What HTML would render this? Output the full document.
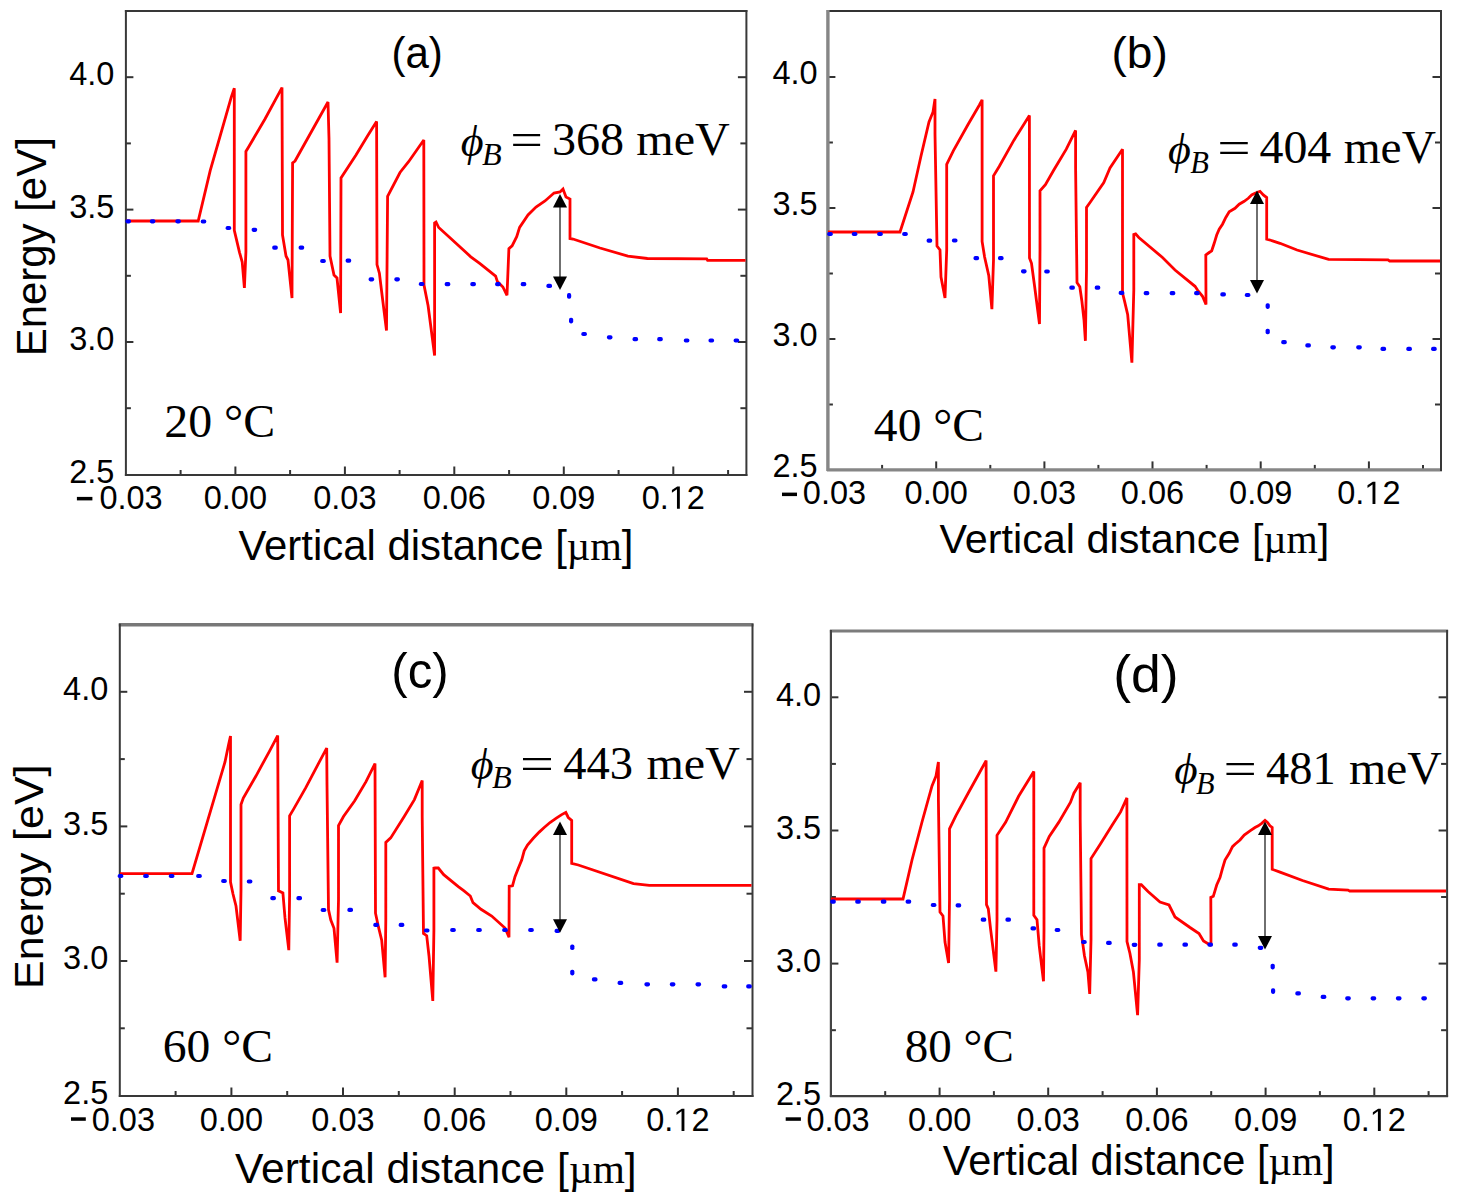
<!DOCTYPE html>
<html><head><meta charset="utf-8"><style>
html,body{margin:0;padding:0;background:#fff;overflow:hidden;width:1459px;height:1200px;}
svg{display:block;}
.s{font-family:"Liberation Sans",sans-serif;fill:#000;}
.r{font-family:"Liberation Serif",serif;fill:#000;}
</style></head><body>
<svg width="1459" height="1200" viewBox="0 0 1459 1200">
<rect width="1459" height="1200" fill="#fff"/>
<line x1="180.6" y1="475.0" x2="180.6" y2="470.0" stroke="#333" stroke-width="2"/>
<line x1="235.4" y1="475.0" x2="235.4" y2="466.5" stroke="#333" stroke-width="2"/>
<line x1="290.1" y1="475.0" x2="290.1" y2="470.0" stroke="#333" stroke-width="2"/>
<line x1="344.9" y1="475.0" x2="344.9" y2="466.5" stroke="#333" stroke-width="2"/>
<line x1="399.6" y1="475.0" x2="399.6" y2="470.0" stroke="#333" stroke-width="2"/>
<line x1="454.3" y1="475.0" x2="454.3" y2="466.5" stroke="#333" stroke-width="2"/>
<line x1="509.1" y1="475.0" x2="509.1" y2="470.0" stroke="#333" stroke-width="2"/>
<line x1="563.8" y1="475.0" x2="563.8" y2="466.5" stroke="#333" stroke-width="2"/>
<line x1="618.6" y1="475.0" x2="618.6" y2="470.0" stroke="#333" stroke-width="2"/>
<line x1="673.3" y1="475.0" x2="673.3" y2="466.5" stroke="#333" stroke-width="2"/>
<line x1="728.1" y1="475.0" x2="728.1" y2="470.0" stroke="#333" stroke-width="2"/>
<line x1="125.9" y1="408.2" x2="130.9" y2="408.2" stroke="#333" stroke-width="2"/>
<line x1="746.4" y1="408.2" x2="740.4" y2="408.2" stroke="#333" stroke-width="2"/>
<line x1="125.9" y1="342.0" x2="133.4" y2="342.0" stroke="#333" stroke-width="2"/>
<line x1="746.4" y1="342.0" x2="737.9" y2="342.0" stroke="#333" stroke-width="2"/>
<line x1="125.9" y1="275.8" x2="130.9" y2="275.8" stroke="#333" stroke-width="2"/>
<line x1="746.4" y1="275.8" x2="740.4" y2="275.8" stroke="#333" stroke-width="2"/>
<line x1="125.9" y1="209.6" x2="133.4" y2="209.6" stroke="#333" stroke-width="2"/>
<line x1="746.4" y1="209.6" x2="737.9" y2="209.6" stroke="#333" stroke-width="2"/>
<line x1="125.9" y1="143.4" x2="130.9" y2="143.4" stroke="#333" stroke-width="2"/>
<line x1="746.4" y1="143.4" x2="740.4" y2="143.4" stroke="#333" stroke-width="2"/>
<line x1="125.9" y1="77.2" x2="133.4" y2="77.2" stroke="#333" stroke-width="2"/>
<line x1="746.4" y1="77.2" x2="737.9" y2="77.2" stroke="#333" stroke-width="2"/>
<line x1="124.9" y1="10.9" x2="747.4" y2="10.9" stroke="#383838" stroke-width="2.0"/>
<line x1="124.9" y1="475.0" x2="747.4" y2="475.0" stroke="#383838" stroke-width="2.0"/>
<line x1="125.9" y1="9.9" x2="125.9" y2="476.0" stroke="#383838" stroke-width="2.0"/>
<line x1="746.4" y1="9.9" x2="746.4" y2="476.0" stroke="#383838" stroke-width="2.0"/>
<rect x="76.9" y="496.9" width="15.5" height="3.5" fill="#000"/>
<text x="99.43" y="508.8" font-size="32.5" class="s">0.03</text>
<text x="235.4" y="508.8" font-size="32.5" text-anchor="middle" class="s">0.00</text>
<text x="344.9" y="508.8" font-size="32.5" text-anchor="middle" class="s">0.03</text>
<text x="454.3" y="508.8" font-size="32.5" text-anchor="middle" class="s">0.06</text>
<text x="563.8" y="508.8" font-size="32.5" text-anchor="middle" class="s">0.09</text>
<text x="641.68" y="508.8" font-size="32.5" class="s">0.</text>
<polygon points="676.96,508.80 679.83,508.80 679.83,486.44 677.20,486.44 671.92,490.07 671.92,492.77 676.96,489.17" fill="#000"/>
<text x="686.86" y="508.8" font-size="32.5" class="s">2</text>
<text x="114.4" y="482.6" font-size="32.5" text-anchor="end" class="s">2.5</text>
<text x="114.4" y="350.2" font-size="32.5" text-anchor="end" class="s">3.0</text>
<text x="114.4" y="217.8" font-size="32.5" text-anchor="end" class="s">3.5</text>
<text x="114.4" y="85.4" font-size="32.5" text-anchor="end" class="s">4.0</text>
<line x1="882.1" y1="469.9" x2="882.1" y2="464.9" stroke="#333" stroke-width="2"/>
<line x1="936.2" y1="469.9" x2="936.2" y2="461.4" stroke="#333" stroke-width="2"/>
<line x1="990.3" y1="469.9" x2="990.3" y2="464.9" stroke="#333" stroke-width="2"/>
<line x1="1044.4" y1="469.9" x2="1044.4" y2="461.4" stroke="#333" stroke-width="2"/>
<line x1="1098.4" y1="469.9" x2="1098.4" y2="464.9" stroke="#333" stroke-width="2"/>
<line x1="1152.5" y1="469.9" x2="1152.5" y2="461.4" stroke="#333" stroke-width="2"/>
<line x1="1206.6" y1="469.9" x2="1206.6" y2="464.9" stroke="#333" stroke-width="2"/>
<line x1="1260.7" y1="469.9" x2="1260.7" y2="461.4" stroke="#333" stroke-width="2"/>
<line x1="1314.8" y1="469.9" x2="1314.8" y2="464.9" stroke="#333" stroke-width="2"/>
<line x1="1368.9" y1="469.9" x2="1368.9" y2="461.4" stroke="#333" stroke-width="2"/>
<line x1="1423.0" y1="469.9" x2="1423.0" y2="464.9" stroke="#333" stroke-width="2"/>
<line x1="827.9" y1="404.5" x2="832.9" y2="404.5" stroke="#333" stroke-width="2"/>
<line x1="1441.0" y1="404.5" x2="1435.0" y2="404.5" stroke="#333" stroke-width="2"/>
<line x1="827.9" y1="339.0" x2="835.4" y2="339.0" stroke="#333" stroke-width="2"/>
<line x1="1441.0" y1="339.0" x2="1432.5" y2="339.0" stroke="#333" stroke-width="2"/>
<line x1="827.9" y1="273.5" x2="832.9" y2="273.5" stroke="#333" stroke-width="2"/>
<line x1="1441.0" y1="273.5" x2="1435.0" y2="273.5" stroke="#333" stroke-width="2"/>
<line x1="827.9" y1="208.0" x2="835.4" y2="208.0" stroke="#333" stroke-width="2"/>
<line x1="1441.0" y1="208.0" x2="1432.5" y2="208.0" stroke="#333" stroke-width="2"/>
<line x1="827.9" y1="142.5" x2="832.9" y2="142.5" stroke="#333" stroke-width="2"/>
<line x1="1441.0" y1="142.5" x2="1435.0" y2="142.5" stroke="#333" stroke-width="2"/>
<line x1="827.9" y1="77.0" x2="835.4" y2="77.0" stroke="#333" stroke-width="2"/>
<line x1="1441.0" y1="77.0" x2="1432.5" y2="77.0" stroke="#333" stroke-width="2"/>
<line x1="826.9" y1="10.9" x2="1442.0" y2="10.9" stroke="#333333" stroke-width="2.0"/>
<line x1="826.9" y1="469.9" x2="1442.0" y2="469.9" stroke="#868686" stroke-width="3.4"/>
<line x1="827.9" y1="9.9" x2="827.9" y2="470.9" stroke="#868686" stroke-width="3.4"/>
<line x1="1441.0" y1="9.9" x2="1441.0" y2="470.9" stroke="#383838" stroke-width="2.0"/>
<rect x="782.0" y="492.6" width="15.0" height="3.5" fill="#000"/>
<text x="802.83" y="504.1" font-size="32.5" class="s">0.03</text>
<text x="936.2" y="504.1" font-size="32.5" text-anchor="middle" class="s">0.00</text>
<text x="1044.4" y="504.1" font-size="32.5" text-anchor="middle" class="s">0.03</text>
<text x="1152.5" y="504.1" font-size="32.5" text-anchor="middle" class="s">0.06</text>
<text x="1260.7" y="504.1" font-size="32.5" text-anchor="middle" class="s">0.09</text>
<text x="1337.26" y="504.1" font-size="32.5" class="s">0.</text>
<polygon points="1372.53,504.10 1375.40,504.10 1375.40,481.74 1372.77,481.74 1367.49,485.37 1367.49,488.07 1372.53,484.47" fill="#000"/>
<text x="1382.43" y="504.1" font-size="32.5" class="s">2</text>
<text x="817.6" y="477.3" font-size="32.5" text-anchor="end" class="s">2.5</text>
<text x="817.6" y="346.3" font-size="32.5" text-anchor="end" class="s">3.0</text>
<text x="817.6" y="215.3" font-size="32.5" text-anchor="end" class="s">3.5</text>
<text x="817.6" y="84.3" font-size="32.5" text-anchor="end" class="s">4.0</text>
<line x1="175.6" y1="1096.0" x2="175.6" y2="1091.0" stroke="#333" stroke-width="2"/>
<line x1="231.4" y1="1096.0" x2="231.4" y2="1087.5" stroke="#333" stroke-width="2"/>
<line x1="287.2" y1="1096.0" x2="287.2" y2="1091.0" stroke="#333" stroke-width="2"/>
<line x1="343.0" y1="1096.0" x2="343.0" y2="1087.5" stroke="#333" stroke-width="2"/>
<line x1="398.8" y1="1096.0" x2="398.8" y2="1091.0" stroke="#333" stroke-width="2"/>
<line x1="454.7" y1="1096.0" x2="454.7" y2="1087.5" stroke="#333" stroke-width="2"/>
<line x1="510.5" y1="1096.0" x2="510.5" y2="1091.0" stroke="#333" stroke-width="2"/>
<line x1="566.3" y1="1096.0" x2="566.3" y2="1087.5" stroke="#333" stroke-width="2"/>
<line x1="622.1" y1="1096.0" x2="622.1" y2="1091.0" stroke="#333" stroke-width="2"/>
<line x1="677.9" y1="1096.0" x2="677.9" y2="1087.5" stroke="#333" stroke-width="2"/>
<line x1="733.7" y1="1096.0" x2="733.7" y2="1091.0" stroke="#333" stroke-width="2"/>
<line x1="119.8" y1="1028.3" x2="124.8" y2="1028.3" stroke="#333" stroke-width="2"/>
<line x1="752.5" y1="1028.3" x2="746.5" y2="1028.3" stroke="#333" stroke-width="2"/>
<line x1="119.8" y1="961.0" x2="127.3" y2="961.0" stroke="#333" stroke-width="2"/>
<line x1="752.5" y1="961.0" x2="744.0" y2="961.0" stroke="#333" stroke-width="2"/>
<line x1="119.8" y1="893.7" x2="124.8" y2="893.7" stroke="#333" stroke-width="2"/>
<line x1="752.5" y1="893.7" x2="746.5" y2="893.7" stroke="#333" stroke-width="2"/>
<line x1="119.8" y1="826.4" x2="127.3" y2="826.4" stroke="#333" stroke-width="2"/>
<line x1="752.5" y1="826.4" x2="744.0" y2="826.4" stroke="#333" stroke-width="2"/>
<line x1="119.8" y1="759.1" x2="124.8" y2="759.1" stroke="#333" stroke-width="2"/>
<line x1="752.5" y1="759.1" x2="746.5" y2="759.1" stroke="#333" stroke-width="2"/>
<line x1="119.8" y1="691.8" x2="127.3" y2="691.8" stroke="#333" stroke-width="2"/>
<line x1="752.5" y1="691.8" x2="744.0" y2="691.8" stroke="#333" stroke-width="2"/>
<line x1="118.8" y1="624.8" x2="753.5" y2="624.8" stroke="#787878" stroke-width="3.4"/>
<line x1="118.8" y1="1096.0" x2="753.5" y2="1096.0" stroke="#383838" stroke-width="2.0"/>
<line x1="119.8" y1="623.8" x2="119.8" y2="1097.0" stroke="#383838" stroke-width="2.0"/>
<line x1="752.5" y1="623.8" x2="752.5" y2="1097.0" stroke="#3a3a3a" stroke-width="2.0"/>
<rect x="71.0" y="1117.3" width="14.8" height="3.5" fill="#000"/>
<text x="91.73" y="1131.0" font-size="32.5" class="s">0.03</text>
<text x="231.4" y="1131.0" font-size="32.5" text-anchor="middle" class="s">0.00</text>
<text x="343.0" y="1131.0" font-size="32.5" text-anchor="middle" class="s">0.03</text>
<text x="454.7" y="1131.0" font-size="32.5" text-anchor="middle" class="s">0.06</text>
<text x="566.3" y="1131.0" font-size="32.5" text-anchor="middle" class="s">0.09</text>
<text x="646.26" y="1131.0" font-size="32.5" class="s">0.</text>
<polygon points="681.54,1131.00 684.41,1131.00 684.41,1108.64 681.78,1108.64 676.49,1112.27 676.49,1114.97 681.54,1111.37" fill="#000"/>
<text x="691.44" y="1131.0" font-size="32.5" class="s">2</text>
<text x="108.3" y="1103.8" font-size="32.5" text-anchor="end" class="s">2.5</text>
<text x="108.3" y="969.2" font-size="32.5" text-anchor="end" class="s">3.0</text>
<text x="108.3" y="834.6" font-size="32.5" text-anchor="end" class="s">3.5</text>
<text x="108.3" y="700.0" font-size="32.5" text-anchor="end" class="s">4.0</text>
<line x1="885.2" y1="1096.1" x2="885.2" y2="1091.1" stroke="#333" stroke-width="2"/>
<line x1="939.6" y1="1096.1" x2="939.6" y2="1087.6" stroke="#333" stroke-width="2"/>
<line x1="993.9" y1="1096.1" x2="993.9" y2="1091.1" stroke="#333" stroke-width="2"/>
<line x1="1048.2" y1="1096.1" x2="1048.2" y2="1087.6" stroke="#333" stroke-width="2"/>
<line x1="1102.6" y1="1096.1" x2="1102.6" y2="1091.1" stroke="#333" stroke-width="2"/>
<line x1="1156.9" y1="1096.1" x2="1156.9" y2="1087.6" stroke="#333" stroke-width="2"/>
<line x1="1211.2" y1="1096.1" x2="1211.2" y2="1091.1" stroke="#333" stroke-width="2"/>
<line x1="1265.6" y1="1096.1" x2="1265.6" y2="1087.6" stroke="#333" stroke-width="2"/>
<line x1="1319.9" y1="1096.1" x2="1319.9" y2="1091.1" stroke="#333" stroke-width="2"/>
<line x1="1374.3" y1="1096.1" x2="1374.3" y2="1087.6" stroke="#333" stroke-width="2"/>
<line x1="1428.6" y1="1096.1" x2="1428.6" y2="1091.1" stroke="#333" stroke-width="2"/>
<line x1="830.9" y1="1030.2" x2="835.9" y2="1030.2" stroke="#333" stroke-width="2"/>
<line x1="1447.1" y1="1030.2" x2="1441.1" y2="1030.2" stroke="#333" stroke-width="2"/>
<line x1="830.9" y1="963.6" x2="838.4" y2="963.6" stroke="#333" stroke-width="2"/>
<line x1="1447.1" y1="963.6" x2="1438.6" y2="963.6" stroke="#333" stroke-width="2"/>
<line x1="830.9" y1="897.0" x2="835.9" y2="897.0" stroke="#333" stroke-width="2"/>
<line x1="1447.1" y1="897.0" x2="1441.1" y2="897.0" stroke="#333" stroke-width="2"/>
<line x1="830.9" y1="830.5" x2="838.4" y2="830.5" stroke="#333" stroke-width="2"/>
<line x1="1447.1" y1="830.5" x2="1438.6" y2="830.5" stroke="#333" stroke-width="2"/>
<line x1="830.9" y1="763.9" x2="835.9" y2="763.9" stroke="#333" stroke-width="2"/>
<line x1="1447.1" y1="763.9" x2="1441.1" y2="763.9" stroke="#333" stroke-width="2"/>
<line x1="830.9" y1="697.3" x2="838.4" y2="697.3" stroke="#333" stroke-width="2"/>
<line x1="1447.1" y1="697.3" x2="1438.6" y2="697.3" stroke="#333" stroke-width="2"/>
<line x1="829.9" y1="631.0" x2="1448.1" y2="631.0" stroke="#7c7c7c" stroke-width="3.2"/>
<line x1="829.9" y1="1096.1" x2="1448.1" y2="1096.1" stroke="#404040" stroke-width="2.2"/>
<line x1="830.9" y1="630.0" x2="830.9" y2="1097.1" stroke="#444444" stroke-width="2.2"/>
<line x1="1447.1" y1="630.0" x2="1447.1" y2="1097.1" stroke="#3a3a3a" stroke-width="2.0"/>
<rect x="785.7" y="1117.3" width="15.2" height="3.5" fill="#000"/>
<text x="806.43" y="1131.0" font-size="32.5" class="s">0.03</text>
<text x="939.6" y="1131.0" font-size="32.5" text-anchor="middle" class="s">0.00</text>
<text x="1048.2" y="1131.0" font-size="32.5" text-anchor="middle" class="s">0.03</text>
<text x="1156.9" y="1131.0" font-size="32.5" text-anchor="middle" class="s">0.06</text>
<text x="1265.6" y="1131.0" font-size="32.5" text-anchor="middle" class="s">0.09</text>
<text x="1342.63" y="1131.0" font-size="32.5" class="s">0.</text>
<polygon points="1377.90,1131.00 1380.78,1131.00 1380.78,1108.64 1378.14,1108.64 1372.86,1112.27 1372.86,1114.97 1377.90,1111.37" fill="#000"/>
<text x="1387.81" y="1131.0" font-size="32.5" class="s">2</text>
<text x="821.2" y="1105.2" font-size="32.5" text-anchor="end" class="s">2.5</text>
<text x="821.2" y="972.1" font-size="32.5" text-anchor="end" class="s">3.0</text>
<text x="821.2" y="839.0" font-size="32.5" text-anchor="end" class="s">3.5</text>
<text x="821.2" y="705.8" font-size="32.5" text-anchor="end" class="s">4.0</text>
<text x="238.42" y="560.00" font-size="42.88" class="s" textLength="395.05" lengthAdjust="spacingAndGlyphs">Vertical distance [<tspan class="r" font-size="41.59">µm</tspan>]</text>
<text x="939.42" y="552.60" font-size="40.70" class="s" textLength="389.81" lengthAdjust="spacingAndGlyphs">Vertical distance [<tspan class="r" font-size="39.48">µm</tspan>]</text>
<text x="234.91" y="1183.20" font-size="42.44" class="s" textLength="401.81" lengthAdjust="spacingAndGlyphs">Vertical distance [<tspan class="r" font-size="41.17">µm</tspan>]</text>
<text x="942.82" y="1175.10" font-size="42.59" class="s" textLength="391.73" lengthAdjust="spacingAndGlyphs">Vertical distance [<tspan class="r" font-size="41.31">µm</tspan>]</text>
<text transform="translate(45.94,356.34) rotate(-90)" font-size="42.70" class="s" textLength="219.13" lengthAdjust="spacingAndGlyphs">Energy [eV]</text>
<text transform="translate(43.48,989.03) rotate(-90)" font-size="41.52" class="s" textLength="224.59" lengthAdjust="spacingAndGlyphs">Energy [eV]</text>
<text x="391.39" y="68.16" font-size="43.69" class="s" textLength="51.42" lengthAdjust="spacingAndGlyphs">(a)</text>
<text x="1111.54" y="68.09" font-size="44.01" class="s" textLength="56.31" lengthAdjust="spacingAndGlyphs">(b)</text>
<text x="391.35" y="687.71" font-size="50.66" class="s" textLength="57.41" lengthAdjust="spacingAndGlyphs">(c)</text>
<text x="1113.18" y="691.74" font-size="50.99" class="s" textLength="65.44" lengthAdjust="spacingAndGlyphs">(d)</text>
<text x="460.69" y="155.64" font-size="44.45" class="r" font-style="italic" textLength="22.85" lengthAdjust="spacingAndGlyphs">ϕ</text>
<text x="482.00" y="165.01" font-size="31.62" class="r" font-style="italic" textLength="19.71" lengthAdjust="spacingAndGlyphs">B</text>
<text x="551.90" y="154.75" font-size="45.64" class="r" textLength="72.24" lengthAdjust="spacingAndGlyphs">368</text>
<text x="510.21" y="154.75" font-size="45.64" class="r" textLength="32.72" lengthAdjust="spacingAndGlyphs">=</text>
<text x="636.39" y="154.75" font-size="45.64" class="r" textLength="93.45" lengthAdjust="spacingAndGlyphs">meV</text>
<text x="1167.89" y="163.74" font-size="44.89" class="r" font-style="italic" textLength="22.85" lengthAdjust="spacingAndGlyphs">ϕ</text>
<text x="1190.22" y="173.21" font-size="31.62" class="r" font-style="italic" textLength="18.65" lengthAdjust="spacingAndGlyphs">B</text>
<text x="1259.46" y="163.05" font-size="45.79" class="r" textLength="71.88" lengthAdjust="spacingAndGlyphs">404</text>
<text x="1217.35" y="163.05" font-size="45.79" class="r" textLength="33.45" lengthAdjust="spacingAndGlyphs">=</text>
<text x="1343.70" y="163.05" font-size="45.79" class="r" textLength="92.23" lengthAdjust="spacingAndGlyphs">meV</text>
<text x="470.69" y="778.74" font-size="44.45" class="r" font-style="italic" textLength="22.85" lengthAdjust="spacingAndGlyphs">ϕ</text>
<text x="492.00" y="788.11" font-size="31.02" class="r" font-style="italic" textLength="19.71" lengthAdjust="spacingAndGlyphs">B</text>
<text x="563.29" y="778.55" font-size="46.29" class="r" textLength="69.83" lengthAdjust="spacingAndGlyphs">443</text>
<text x="520.10" y="778.55" font-size="46.29" class="r" textLength="33.93" lengthAdjust="spacingAndGlyphs">=</text>
<text x="646.49" y="778.55" font-size="46.29" class="r" textLength="93.35" lengthAdjust="spacingAndGlyphs">meV</text>
<text x="1174.16" y="784.47" font-size="44.78" class="r" font-style="italic" textLength="23.40" lengthAdjust="spacingAndGlyphs">ϕ</text>
<text x="1196.02" y="793.91" font-size="31.47" class="r" font-style="italic" textLength="18.55" lengthAdjust="spacingAndGlyphs">B</text>
<text x="1266.10" y="783.75" font-size="45.64" class="r" textLength="69.49" lengthAdjust="spacingAndGlyphs">481</text>
<text x="1223.46" y="783.75" font-size="45.64" class="r" textLength="33.33" lengthAdjust="spacingAndGlyphs">=</text>
<text x="1348.90" y="783.75" font-size="45.64" class="r" textLength="93.04" lengthAdjust="spacingAndGlyphs">meV</text>
<text x="164.20" y="436.95" font-size="46.09" class="r" textLength="110.95" lengthAdjust="spacingAndGlyphs">20 °C</text>
<text x="873.87" y="441.05" font-size="46.09" class="r" textLength="110.15" lengthAdjust="spacingAndGlyphs">40 °C</text>
<text x="162.75" y="1061.85" font-size="46.09" class="r" textLength="110.27" lengthAdjust="spacingAndGlyphs">60 °C</text>
<text x="904.81" y="1061.85" font-size="46.09" class="r" textLength="108.99" lengthAdjust="spacingAndGlyphs">80 °C</text>
<polyline points="126,221 198.2,221 210.2,170.7 225.7,116.6 231.2,97.4 234.3,88.2 234.3,230.3 239.5,252.3 242.2,262 244.4,288 245.9,252 245.9,151.5 248.6,147 265,119 282,87.6 282.5,235 286,256 288,260 292,298 292.6,163 295,161 328,102 329,139 330,256 334,275 337,278 340.6,313 341,178 356,155 367.5,136 376.6,121.6 377,264.5 379.4,273.2 381.5,290.5 386.5,330.6 387.6,196.3 400,172.5 408.6,161.7 423.8,140 424,285.1 428.1,305.7 434.6,355.5 434.6,222.9 436,222 438.7,227.5 470.8,256.8 480,263.7 495.6,276.1 497.4,281.6 502.9,287 507,295.3 508.9,248.6 512.1,245.8 516.7,236.7 519.6,227.4 528,215 536,207 545,201 554,193 560,192 563,189 566,197 570,199 570,238.5 573,239 600,248 627.9,256.1 647.4,258.5 706.7,258.9 707.6,260.4 745.5,260.4" fill="none" stroke="#ff0000" stroke-width="2.8" stroke-linejoin="miter" stroke-miterlimit="2"/>
<rect x="125.4" y="219.2" width="5.6" height="4.2" rx="1.8" fill="#0000ff"/>
<rect x="149.8" y="219.2" width="5.6" height="4.2" rx="1.8" fill="#0000ff"/>
<rect x="175.3" y="219.2" width="5.6" height="4.2" rx="1.8" fill="#0000ff"/>
<rect x="200.7" y="219.4" width="5.6" height="4.2" rx="1.8" fill="#0000ff"/>
<rect x="225.6" y="225.9" width="5.6" height="4.2" rx="1.8" fill="#0000ff"/>
<rect x="251.6" y="227.7" width="5.6" height="4.2" rx="1.8" fill="#0000ff"/>
<rect x="272.2" y="245.5" width="5.6" height="4.2" rx="1.8" fill="#0000ff"/>
<rect x="298.6" y="245.5" width="5.6" height="4.2" rx="1.8" fill="#0000ff"/>
<rect x="320.2" y="258.9" width="5.6" height="4.2" rx="1.8" fill="#0000ff"/>
<rect x="345.6" y="258.5" width="5.6" height="4.2" rx="1.8" fill="#0000ff"/>
<rect x="368.6" y="277.2" width="5.6" height="4.2" rx="1.8" fill="#0000ff"/>
<rect x="394.3" y="277.2" width="5.6" height="4.2" rx="1.8" fill="#0000ff"/>
<rect x="418.8" y="281.9" width="5.6" height="4.2" rx="1.8" fill="#0000ff"/>
<rect x="444.7" y="282.0" width="5.6" height="4.2" rx="1.8" fill="#0000ff"/>
<rect x="470.3" y="282.0" width="5.6" height="4.2" rx="1.8" fill="#0000ff"/>
<rect x="495.1" y="282.0" width="5.6" height="4.2" rx="1.8" fill="#0000ff"/>
<rect x="520.7" y="282.1" width="5.6" height="4.2" rx="1.8" fill="#0000ff"/>
<rect x="546.4" y="283.8" width="5.6" height="4.2" rx="1.8" fill="#0000ff"/>
<rect x="567.0" y="293.1" width="4.2" height="5.6" rx="1.8" fill="#0000ff"/>
<rect x="569.0" y="317.8" width="4.2" height="5.6" rx="1.8" fill="#0000ff"/>
<rect x="581.3" y="331.9" width="5.6" height="4.2" rx="1.8" fill="#0000ff"/>
<rect x="606.9" y="335.2" width="5.6" height="4.2" rx="1.8" fill="#0000ff"/>
<rect x="632.5" y="337.1" width="5.6" height="4.2" rx="1.8" fill="#0000ff"/>
<rect x="657.2" y="337.1" width="5.6" height="4.2" rx="1.8" fill="#0000ff"/>
<rect x="683.8" y="338.4" width="5.6" height="4.2" rx="1.8" fill="#0000ff"/>
<rect x="708.5" y="338.4" width="5.6" height="4.2" rx="1.8" fill="#0000ff"/>
<rect x="733.6" y="338.4" width="5.6" height="4.2" rx="1.8" fill="#0000ff"/>
<line x1="560" y1="206" x2="560" y2="278" stroke="#333" stroke-width="1.4"/>
<polygon points="560,194 553,207.5 567,207.5" fill="#000"/>
<polygon points="560,290 553,276.5 567,276.5" fill="#000"/>
<polyline points="828,232 900,232 913,192 921,156 929,122 933,112 935,99 935,134 937,246 940,250 941,277 945,298 946.7,250 946.7,164.4 953.3,150.8 967.9,124.8 979.4,105 982.1,99.8 982.1,241.5 984.6,257 988.8,275.8 991.9,309.2 993.5,260 993.5,175.8 999.2,166.5 1013.8,140.4 1029.4,115.4 1029.5,258.1 1031.5,263.3 1034.6,286.3 1039.5,324 1040,250 1040,190.8 1045.4,184.6 1053.8,170 1066.3,149.2 1075.6,130.4 1075.6,167.9 1077,282.5 1079.8,286.7 1081.9,301.3 1084,320 1085.4,340.8 1086.5,270 1086.5,207.5 1090.2,202.3 1103.8,182.5 1110,167.9 1122.5,149.2 1122.5,292.9 1124.6,301.3 1127.7,314.8 1131.9,362.7 1133.8,290 1133.8,234.4 1135.6,233.8 1138.8,237.5 1162.5,257.5 1175,270 1195,286.3 1197.5,290 1202.5,296.3 1206,304.4 1205.8,255 1209.2,252.5 1211.7,250.8 1214.2,243.3 1216.7,235 1219.2,229.2 1222.5,224.2 1225.8,217.5 1229.2,211.7 1235,208.3 1239.2,204.2 1244.2,201.3 1248.3,198.3 1251.7,195 1255,193.3 1260,191.3 1263.3,195 1266.7,197.5 1266.7,239.2 1272.5,240.8 1280,243.3 1297,250 1328.6,259.4 1388,259.9 1389.6,261 1440,261" fill="none" stroke="#ff0000" stroke-width="2.8" stroke-linejoin="miter" stroke-miterlimit="2"/>
<rect x="827.2" y="231.9" width="5.6" height="4.2" rx="1.8" fill="#0000ff"/>
<rect x="851.8" y="231.9" width="5.6" height="4.2" rx="1.8" fill="#0000ff"/>
<rect x="877.2" y="231.9" width="5.6" height="4.2" rx="1.8" fill="#0000ff"/>
<rect x="902.2" y="231.9" width="5.6" height="4.2" rx="1.8" fill="#0000ff"/>
<rect x="926.6" y="238.5" width="5.6" height="4.2" rx="1.8" fill="#0000ff"/>
<rect x="951.9" y="238.4" width="5.6" height="4.2" rx="1.8" fill="#0000ff"/>
<rect x="973.5" y="256.0" width="5.6" height="4.2" rx="1.8" fill="#0000ff"/>
<rect x="998.0" y="256.0" width="5.6" height="4.2" rx="1.8" fill="#0000ff"/>
<rect x="1021.0" y="269.2" width="5.6" height="4.2" rx="1.8" fill="#0000ff"/>
<rect x="1044.2" y="269.4" width="5.6" height="4.2" rx="1.8" fill="#0000ff"/>
<rect x="1069.3" y="285.6" width="5.6" height="4.2" rx="1.8" fill="#0000ff"/>
<rect x="1094.7" y="285.6" width="5.6" height="4.2" rx="1.8" fill="#0000ff"/>
<rect x="1118.7" y="290.8" width="5.6" height="4.2" rx="1.8" fill="#0000ff"/>
<rect x="1143.7" y="291.0" width="5.6" height="4.2" rx="1.8" fill="#0000ff"/>
<rect x="1169.7" y="291.0" width="5.6" height="4.2" rx="1.8" fill="#0000ff"/>
<rect x="1194.1" y="291.0" width="5.6" height="4.2" rx="1.8" fill="#0000ff"/>
<rect x="1220.3" y="292.3" width="5.6" height="4.2" rx="1.8" fill="#0000ff"/>
<rect x="1244.8" y="292.9" width="5.6" height="4.2" rx="1.8" fill="#0000ff"/>
<rect x="1265.6" y="303.3" width="4.2" height="5.6" rx="1.8" fill="#0000ff"/>
<rect x="1265.6" y="328.7" width="4.2" height="5.6" rx="1.8" fill="#0000ff"/>
<rect x="1281.2" y="340.1" width="5.6" height="4.2" rx="1.8" fill="#0000ff"/>
<rect x="1305.3" y="343.3" width="5.6" height="4.2" rx="1.8" fill="#0000ff"/>
<rect x="1330.3" y="345.2" width="5.6" height="4.2" rx="1.8" fill="#0000ff"/>
<rect x="1356.2" y="345.2" width="5.6" height="4.2" rx="1.8" fill="#0000ff"/>
<rect x="1380.5" y="346.8" width="5.6" height="4.2" rx="1.8" fill="#0000ff"/>
<rect x="1406.3" y="346.8" width="5.6" height="4.2" rx="1.8" fill="#0000ff"/>
<rect x="1431.1" y="346.8" width="5.6" height="4.2" rx="1.8" fill="#0000ff"/>
<line x1="1257" y1="202.5" x2="1257" y2="281.6" stroke="#333" stroke-width="1.4"/>
<polygon points="1257,190.5 1250,204.0 1264,204.0" fill="#000"/>
<polygon points="1257,293.6 1250,280.1 1264,280.1" fill="#000"/>
<polyline points="120,873.6 192,873.6 225,762 228.5,745 230.5,736 230.5,882 233,894 236,906 240.2,940.8 241,890 241,804.4 243.3,798.1 255.8,776.3 269.4,751.3 277.7,735.6 278.5,890.8 282.9,892.9 285,917.9 288.8,950.2 289.6,895 289.6,815.8 293.3,809.6 305.8,787.7 318.3,763.8 326.7,748.1 327,784.6 328.5,909.6 330.8,920 334,928.3 337.1,962.7 338.5,900 338.5,825.5 343.5,816.5 354.7,800.7 366,781.6 375,763.6 375.5,913.2 378.4,926.7 381.7,940.2 385.1,977.3 385.8,920 385.8,842.4 390.7,837.9 404.2,816.5 414.4,799.6 422.2,780.5 422.2,816.5 423.5,933.5 426.7,935.7 429,956 432.8,1001 433.9,930 433.9,868.2 435,868 438.3,868 443.7,874.7 458.3,886.7 463.7,890.7 470.3,896 473,902.7 481,909.3 491.7,916 505,928 509,937.3 509.2,886.3 512.5,885.8 515,876.7 518.3,868.3 521.7,860 524.2,850.8 527.5,845 533.3,838.3 539.2,832.1 544.2,827.5 550,822.5 556.7,817.9 561.7,814.6 565.8,812.5 568.3,817.5 571.7,820.4 571.7,863.3 578.3,865 633.5,883.6 649.3,885.4 751.5,885.4" fill="none" stroke="#ff0000" stroke-width="2.8" stroke-linejoin="miter" stroke-miterlimit="2"/>
<rect x="117.7" y="873.9" width="5.6" height="4.2" rx="1.8" fill="#0000ff"/>
<rect x="143.2" y="873.9" width="5.6" height="4.2" rx="1.8" fill="#0000ff"/>
<rect x="168.8" y="873.9" width="5.6" height="4.2" rx="1.8" fill="#0000ff"/>
<rect x="196.2" y="873.9" width="5.6" height="4.2" rx="1.8" fill="#0000ff"/>
<rect x="221.2" y="878.9" width="5.6" height="4.2" rx="1.8" fill="#0000ff"/>
<rect x="246.8" y="879.4" width="5.6" height="4.2" rx="1.8" fill="#0000ff"/>
<rect x="270.3" y="896.0" width="5.6" height="4.2" rx="1.8" fill="#0000ff"/>
<rect x="296.4" y="896.0" width="5.6" height="4.2" rx="1.8" fill="#0000ff"/>
<rect x="320.7" y="907.9" width="5.6" height="4.2" rx="1.8" fill="#0000ff"/>
<rect x="347.4" y="907.8" width="5.6" height="4.2" rx="1.8" fill="#0000ff"/>
<rect x="373.3" y="922.8" width="5.6" height="4.2" rx="1.8" fill="#0000ff"/>
<rect x="398.7" y="922.8" width="5.6" height="4.2" rx="1.8" fill="#0000ff"/>
<rect x="423.9" y="928.4" width="5.6" height="4.2" rx="1.8" fill="#0000ff"/>
<rect x="450.2" y="927.9" width="5.6" height="4.2" rx="1.8" fill="#0000ff"/>
<rect x="476.2" y="927.9" width="5.6" height="4.2" rx="1.8" fill="#0000ff"/>
<rect x="502.2" y="927.9" width="5.6" height="4.2" rx="1.8" fill="#0000ff"/>
<rect x="528.2" y="927.9" width="5.6" height="4.2" rx="1.8" fill="#0000ff"/>
<rect x="554.6" y="928.8" width="5.6" height="4.2" rx="1.8" fill="#0000ff"/>
<rect x="570.2" y="944.4" width="4.2" height="5.6" rx="1.8" fill="#0000ff"/>
<rect x="570.2" y="969.8" width="4.2" height="5.6" rx="1.8" fill="#0000ff"/>
<rect x="591.9" y="977.3" width="5.6" height="4.2" rx="1.8" fill="#0000ff"/>
<rect x="617.6" y="980.8" width="5.6" height="4.2" rx="1.8" fill="#0000ff"/>
<rect x="644.4" y="982.2" width="5.6" height="4.2" rx="1.8" fill="#0000ff"/>
<rect x="669.8" y="982.2" width="5.6" height="4.2" rx="1.8" fill="#0000ff"/>
<rect x="695.5" y="982.2" width="5.6" height="4.2" rx="1.8" fill="#0000ff"/>
<rect x="721.7" y="984.3" width="5.6" height="4.2" rx="1.8" fill="#0000ff"/>
<rect x="746.2" y="984.3" width="5.6" height="4.2" rx="1.8" fill="#0000ff"/>
<line x1="560" y1="833.5" x2="560" y2="920.7" stroke="#333" stroke-width="1.4"/>
<polygon points="560,821.5 553,835.0 567,835.0" fill="#000"/>
<polygon points="560,932.7 553,919.2 567,919.2" fill="#000"/>
<polyline points="831,899 903,899 912,860 922,822 932,786 936,776 938.4,762 938.4,800 940,912 943,916 945,942 948.6,963 949.5,900 949.5,828.8 955.8,815.8 968.8,792 979.6,772.5 986.1,760.6 986.5,904.6 988.3,908.9 990.5,928.4 995.9,971.7 997,920 997,835.3 1005.6,822.3 1018.6,796.3 1033.8,771.4 1033.8,915.4 1037,919.7 1039.2,945.7 1043.5,981.3 1044,930 1044,848.1 1049.3,836.4 1058.7,822.4 1070.4,802.5 1073.9,793.2 1080.2,782.7 1080.2,818.9 1081.5,934.5 1084.4,955.5 1087.9,971.9 1089.7,994 1091,940 1091,858.6 1100.7,843.4 1112.4,824.7 1120.6,811.9 1126.9,797.9 1127,941.5 1129.9,953.2 1133.4,971.9 1137.6,1015.1 1139.3,960 1139.3,884.7 1141.3,884.7 1148,891.5 1160,902 1169,905 1175,917 1190,927.5 1199,933.5 1203.5,941 1211,945.5 1210.8,897.5 1213.3,896.3 1216.7,885 1220,877.5 1222.5,868.3 1225,860 1229.2,853.3 1232.5,846.7 1235,844.2 1240,840 1244.2,835 1250,830.8 1255,827.5 1258.3,825.8 1261.7,823.3 1265,820.4 1267.5,822.5 1270,825.8 1272.2,827.5 1272.2,869.2 1274.2,870 1280,872.1 1302.5,880.5 1328.7,889.2 1348,890.1 1349.7,891 1446,891" fill="none" stroke="#ff0000" stroke-width="2.8" stroke-linejoin="miter" stroke-miterlimit="2"/>
<rect x="830.2" y="899.5" width="5.6" height="4.2" rx="1.8" fill="#0000ff"/>
<rect x="855.2" y="899.5" width="5.6" height="4.2" rx="1.8" fill="#0000ff"/>
<rect x="880.8" y="899.5" width="5.6" height="4.2" rx="1.8" fill="#0000ff"/>
<rect x="905.6" y="899.5" width="5.6" height="4.2" rx="1.8" fill="#0000ff"/>
<rect x="930.8" y="902.9" width="5.6" height="4.2" rx="1.8" fill="#0000ff"/>
<rect x="955.6" y="903.3" width="5.6" height="4.2" rx="1.8" fill="#0000ff"/>
<rect x="980.7" y="917.6" width="5.6" height="4.2" rx="1.8" fill="#0000ff"/>
<rect x="1005.4" y="917.6" width="5.6" height="4.2" rx="1.8" fill="#0000ff"/>
<rect x="1030.5" y="926.3" width="5.6" height="4.2" rx="1.8" fill="#0000ff"/>
<rect x="1054.7" y="927.9" width="5.6" height="4.2" rx="1.8" fill="#0000ff"/>
<rect x="1081.1" y="939.9" width="5.6" height="4.2" rx="1.8" fill="#0000ff"/>
<rect x="1106.1" y="940.8" width="5.6" height="4.2" rx="1.8" fill="#0000ff"/>
<rect x="1131.7" y="942.7" width="5.6" height="4.2" rx="1.8" fill="#0000ff"/>
<rect x="1157.2" y="942.6" width="5.6" height="4.2" rx="1.8" fill="#0000ff"/>
<rect x="1182.4" y="942.6" width="5.6" height="4.2" rx="1.8" fill="#0000ff"/>
<rect x="1207.4" y="942.6" width="5.6" height="4.2" rx="1.8" fill="#0000ff"/>
<rect x="1232.2" y="942.6" width="5.6" height="4.2" rx="1.8" fill="#0000ff"/>
<rect x="1257.7" y="945.7" width="5.6" height="4.2" rx="1.8" fill="#0000ff"/>
<rect x="1270.6" y="963.8" width="4.2" height="5.6" rx="1.8" fill="#0000ff"/>
<rect x="1271.0" y="988.3" width="4.2" height="5.6" rx="1.8" fill="#0000ff"/>
<rect x="1295.3" y="991.3" width="5.6" height="4.2" rx="1.8" fill="#0000ff"/>
<rect x="1320.7" y="994.8" width="5.6" height="4.2" rx="1.8" fill="#0000ff"/>
<rect x="1345.2" y="996.2" width="5.6" height="4.2" rx="1.8" fill="#0000ff"/>
<rect x="1370.6" y="996.2" width="5.6" height="4.2" rx="1.8" fill="#0000ff"/>
<rect x="1395.9" y="996.2" width="5.6" height="4.2" rx="1.8" fill="#0000ff"/>
<rect x="1421.3" y="996.2" width="5.6" height="4.2" rx="1.8" fill="#0000ff"/>
<line x1="1265" y1="833.5" x2="1265" y2="937.4" stroke="#333" stroke-width="1.4"/>
<polygon points="1265,821.5 1258,835.0 1272,835.0" fill="#000"/>
<polygon points="1265,949.4 1258,935.9 1272,935.9" fill="#000"/>
</svg>
</body></html>
